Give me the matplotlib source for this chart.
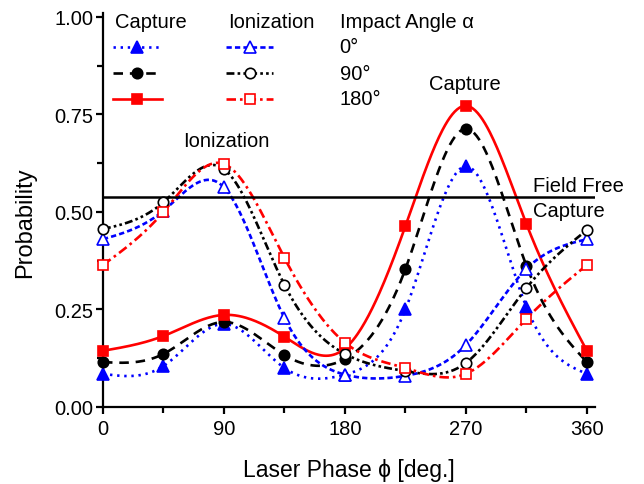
"""Capture and ionization probability versus laser phase."""

from matplotlib import pyplot
import numpy


# Laser phase (deg.) and probabilities.
phase = [0, 45, 90, 135, 180, 225, 270, 315, 360]
capture_0 = [0.085, 0.105, 0.213, 0.100, 0.083, 0.250, 0.617, 0.256, 0.085]
capture_90 = [0.115, 0.136, 0.218, 0.133, 0.123, 0.354, 0.713, 0.362, 0.115]
capture_180 = [0.144, 0.182, 0.236, 0.180, 0.150, 0.464, 0.772, 0.469, 0.144]
ionization_0 = [0.430, 0.503, 0.563, 0.228, 0.083, 0.080, 0.159, 0.354, 0.430]
ionization_90 = [0.456, 0.525, 0.610, 0.313, 0.136, 0.092, 0.113, 0.305, 0.454]
ionization_180 = [0.364, 0.500, 0.623, 0.382, 0.165, 0.100, 0.085, 0.226, 0.364]
field_free = 0.537  # field-free capture probability
angles = ['0°', '90°', '180°']


def natural_spline(x, y, num=400):
    """Return a natural cubic spline through the points (x, y)."""
    x = numpy.asarray(x, dtype=float)
    y = numpy.asarray(y, dtype=float)
    n = x.size
    h = numpy.diff(x)
    A = numpy.zeros((n, n))
    r = numpy.zeros(n)
    A[0, 0] = A[-1, -1] = 1.0
    for i in range(1, n - 1):
        A[i, i - 1] = h[i - 1]
        A[i, i] = 2.0 * (h[i - 1] + h[i])
        A[i, i + 1] = h[i]
        r[i] = 6.0 * ((y[i + 1] - y[i]) / h[i] - (y[i] - y[i - 1]) / h[i - 1])
    M = numpy.linalg.solve(A, r)
    xs = numpy.linspace(x[0], x[-1], num=num)
    k = numpy.clip(numpy.searchsorted(x, xs) - 1, 0, n - 2)
    t0, t1, hk = x[k + 1] - xs, xs - x[k], h[k]
    ys = ((M[k] * t0**3 + M[k + 1] * t1**3) / (6.0 * hk)
          + (y[k] / hk - M[k] * hk / 6.0) * t0
          + (y[k + 1] / hk - M[k + 1] * hk / 6.0) * t1)
    return xs, ys


blue, red, black = '#0000ff', '#ff0000', 'black'
lw = 1.9
# (values, color, dash pattern, marker, filled, marker size)
capture_series = [
    (capture_0, blue, (0, (0.9, 1.8)), '^', True, 9),
    (capture_90, black, (0, (3.6, 2.6)), 'o', True, 7.5),
    (capture_180, red, '-', 's', True, 7.5),
]
ionization_series = [
    (ionization_0, blue, (0, (2.0, 1.2)), '^', False, 9),
    (ionization_90, black, (0, (3.0, 1.2, 1.0, 1.2, 1.0, 1.2)), 'o', False, 7.5),
    (ionization_180, red, (0, (3.6, 1.5, 1.0, 1.5)), 's', False, 7.5),
]

pyplot.rcParams['font.family'] = ['Liberation Sans', 'DejaVu Sans']
fig = pyplot.figure(figsize=(6.44, 4.85), dpi=100)
ax = fig.add_axes([0.1599, 0.1588, 0.764, 0.8124])

for values, color, ls, marker, filled, ms in capture_series + ionization_series:
    xs, ys = natural_spline(phase, values)
    ax.plot(xs, ys, color=color, linestyle=ls, linewidth=lw)
    ax.plot(phase, values, linestyle='none', marker=marker, markersize=ms,
            color=color, markerfacecolor=color if filled else 'white',
            markeredgewidth=1.2, clip_on=False, zorder=3)

ax.axhline(field_free, color='black', linewidth=1.8)

# Annotations.
ax.text(92, 0.682, 'Ionization', ha='center', va='center', fontsize=14.5)
ax.text(269, 0.828, 'Capture', ha='center', va='center', fontsize=14.5)
ax.text(320, 0.569, 'Field Free', ha='left', va='center', fontsize=14.5,
        clip_on=False)
ax.text(320, 0.503, 'Capture', ha='left', va='center', fontsize=14.5)

# Hand-made legend in three columns.
rows_y = [0.923, 0.856, 0.790]
ax.text(8.9, 0.987, 'Capture', ha='left', va='center', fontsize=14.5)
ax.text(93, 0.987, 'Ionization', ha='left', va='center', fontsize=14.5)
ax.text(176, 0.987, 'Impact Angle α', ha='left', va='center', fontsize=14.5)
for col, (x0, x1) in zip([capture_series, ionization_series],
                         [(7.4, 43.9), (91.8, 126.7)]):
    for (values, color, ls, marker, filled, ms), yr in zip(col, rows_y):
        ax.plot([x0, x1], [yr, yr], color=color, linestyle=ls, linewidth=lw,
                clip_on=False)
        ax.plot([(x0 + x1) / 2], [yr], linestyle='none', marker=marker,
                markersize=ms, color=color,
                markerfacecolor=color if filled else 'white',
                markeredgewidth=1.2, clip_on=False)
for label, yr in zip(angles, rows_y):
    ax.text(176, yr, label, ha='left', va='center', fontsize=14.5)

# Axes styling.
ax.set_xlim(0.0, 366.0)
ax.set_ylim(0.0, 1.01)
ax.set_xticks([0, 90, 180, 270, 360])
ax.set_xticks([45, 135, 225, 315], minor=True)
ax.set_yticks([0.0, 0.25, 0.5, 0.75, 1.0])
ax.set_yticklabels(['0.00', '0.25', '0.50', '0.75', '1.00'])
ax.set_yticks([0.125, 0.375, 0.625, 0.875], minor=True)
ax.spines['top'].set_visible(False)
ax.spines['right'].set_visible(False)
for side in ['left', 'bottom']:
    ax.spines[side].set_linewidth(1.6)
ax.tick_params(which='major', direction='out', length=5, width=1.6,
               labelsize=14.5, pad=2)
ax.tick_params(axis='x', which='major', pad=4)
ax.tick_params(which='minor', direction='out', length=4, width=1.6)
ax.set_xlabel('Laser Phase ϕ [deg.]', fontsize=16.5)
ax.set_ylabel('Probability', fontsize=17)
ax.xaxis.set_label_coords(0.5, -0.13)
ax.yaxis.set_label_coords(-0.135, 0.47)

fig.savefig('out.png', dpi=100)
